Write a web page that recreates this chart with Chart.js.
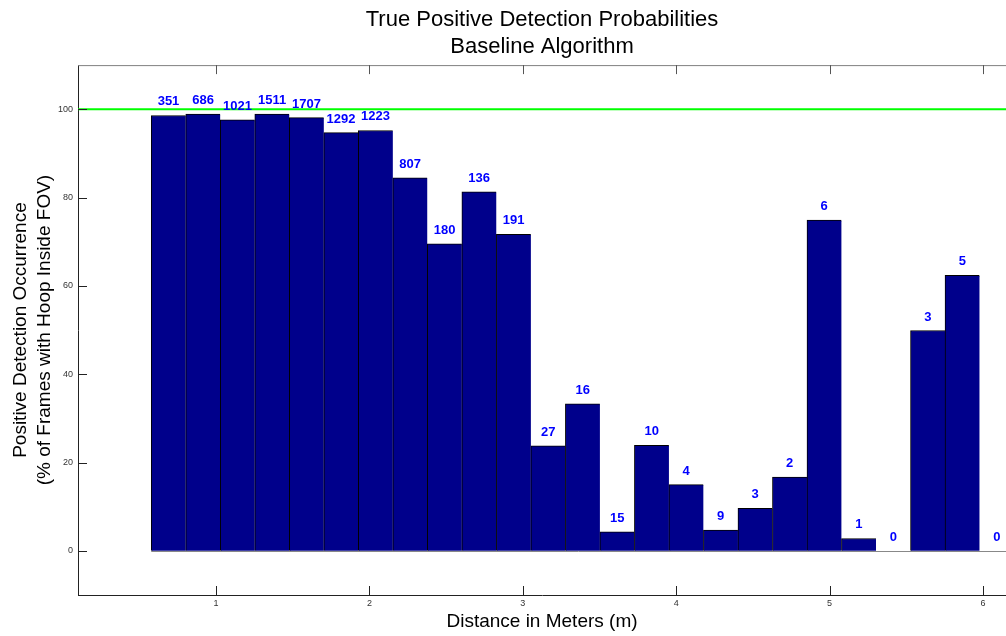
<!DOCTYPE html>
<html>
<head>
<meta charset="utf-8">
<script src="https://cdn.jsdelivr.net/npm/chart.js@4.4.1/dist/chart.umd.min.js"></script>
<style>
  html, body { margin: 0; padding: 0; background: #fff; }
  #wrap { width: 1006px; height: 636px; }
</style>
</head>
<body>
<div id="wrap"><canvas id="detChart" width="1006" height="636"></canvas></div>
<script>
// bin centres (metres)
const distances = [0.69, 0.915, 1.14, 1.365, 1.59, 1.815, 2.04, 2.265, 2.49, 2.715,
                   2.94, 3.165, 3.39, 3.615, 3.84, 4.065, 4.29, 4.515, 4.74, 4.965,
                   5.19, 5.415, 5.64, 5.865, 6.09];
// % of frames with a positive detection
const detectionPct = [98.6, 98.9, 97.6, 98.9, 98.1, 94.7, 95.2, 84.5, 69.5, 81.3,
                      71.7, 23.8, 33.3, 4.3, 23.9, 15.0, 4.7, 9.6, 16.7, 74.9,
                      2.8, 0, 49.9, 62.4, 0];
// number of frames in each bin
const frameCounts = [351, 686, 1021, 1511, 1707, 1292, 1223, 807, 180, 136,
                     191, 27, 16, 15, 10, 4, 9, 3, 2, 6,
                     1, 0, 3, 5, 0];
const xTicks = [1, 2, 3, 4, 5, 6];
const yTicks = [0, 20, 40, 60, 80, 100];
const targetLine = 100;
const xRange = [0.1, 6.15];
const yRange = [-10, 110];

const FONT = 'Liberation Sans, Arial, Helvetica, sans-serif';

// count labels above each bar
const countLabels = {
    id: 'countLabels',
    afterDatasetsDraw(chart) {
        const meta = chart.getDatasetMeta(0);
        const ctx = chart.ctx;
        ctx.save();
        ctx.font = 'bold 13px ' + FONT;
        ctx.fillStyle = '#0000ff';
        ctx.textAlign = 'center';
        ctx.textBaseline = 'alphabetic';
        meta.data.forEach((bar, i) => {
            ctx.fillText(String(frameCounts[i]), bar.x, bar.y - 10);
        });
        ctx.restore();
    }
};

// matlab style box: inward ticks, grey top edge, bar baseline
const axesBox = {
    id: 'axesBox',
    afterDraw(chart) {
        const {ctx, chartArea: a, scales: {x, y}} = chart;
        ctx.save();
        ctx.lineWidth = 1;
        // baseline under the bars
        const meta = chart.getDatasetMeta(0);
        const first = meta.data[0];
        const y0 = Math.round(y.getPixelForValue(0)) + 0.5;
        ctx.strokeStyle = '#888';
        ctx.beginPath();
        ctx.moveTo(first.x - first.width / 2, y0);
        ctx.lineTo(a.right, y0);
        ctx.stroke();
        // top edge
        ctx.strokeStyle = '#808080';
        ctx.beginPath();
        ctx.moveTo(a.left, a.top + 0.5);
        ctx.lineTo(a.right, a.top + 0.5);
        ctx.stroke();
        // x ticks, bottom and top
        xTicks.forEach(v => {
            const px = Math.round(x.getPixelForValue(v)) + 0.5;
            ctx.strokeStyle = '#222';
            ctx.beginPath();
            ctx.moveTo(px, a.bottom);
            ctx.lineTo(px, a.bottom - 9);
            ctx.stroke();
            ctx.strokeStyle = '#555';
            ctx.beginPath();
            ctx.moveTo(px, a.top);
            ctx.lineTo(px, a.top + 9);
            ctx.stroke();
        });
        // y ticks on the left
        ctx.strokeStyle = '#222';
        yTicks.forEach(v => {
            const py = Math.round(y.getPixelForValue(v)) + 0.5;
            ctx.beginPath();
            ctx.moveTo(a.left, py);
            ctx.lineTo(a.left + 9, py);
            ctx.stroke();
        });
        ctx.restore();
    }
};

const ctx = document.getElementById('detChart').getContext('2d');
new Chart(ctx, {
    type: 'bar',
    data: {
        datasets: [{
            type: 'bar',
            data: distances.map((d, i) => ({x: d, y: detectionPct[i]})),
            backgroundColor: '#00008b',
            borderColor: '#000000',
            borderWidth: {top: 1, left: 1, right: 0, bottom: 0},
            borderSkipped: false,
            barPercentage: 1,
            categoryPercentage: 1,
            order: 2
        }, {
            type: 'line',
            data: [{x: xRange[0], y: targetLine}, {x: xRange[1], y: targetLine}],
            borderColor: '#00ff00',
            borderWidth: 2,
            pointRadius: 0,
            order: 1
        }]
    },
    options: {
        responsive: false,
        devicePixelRatio: 1,
        animation: false,
        layout: {padding: 0},
        plugins: {
            legend: {display: false},
            tooltip: {enabled: false},
            title: {
                display: true,
                fullSize: false,
                text: ['True Positive Detection Probabilities', 'Baseline Algorithm'],
                color: '#000',
                font: {family: FONT, size: 22, weight: 'normal', lineHeight: 1.23},
                padding: {top: 6, bottom: 5}
            }
        },
        scales: {
            x: {
                type: 'linear',
                offset: false,
                min: xRange[0],
                max: xRange[1],
                afterBuildTicks(scale) { scale.ticks = xTicks.map(v => ({value: v})); },
                afterFit(scale) { scale.height = 41; },
                grid: {display: false, drawTicks: false, offset: false},
                border: {display: true, color: '#222', width: 1},
                ticks: {
                    padding: 3,
                    maxRotation: 0,
                    color: '#333',
                    font: {family: FONT, size: 9},
                    callback: v => String(v)
                },
                title: {
                    display: true,
                    text: 'Distance in Meters (m)',
                    color: '#000',
                    font: {family: FONT, size: 19, lineHeight: 1.2},
                    padding: {top: 0, bottom: 3}
                }
            },
            y: {
                min: yRange[0],
                max: yRange[1],
                afterBuildTicks(scale) { scale.ticks = yTicks.map(v => ({value: v})); },
                afterFit(scale) { scale.width = 78; },
                grid: {display: false, drawTicks: false},
                border: {display: true, color: '#222', width: 1},
                ticks: {
                    padding: 5,
                    color: '#333',
                    font: {family: FONT, size: 9},
                    callback: v => String(v)
                },
                title: {
                    display: true,
                    text: ['Positive Detection Occurrence', '(% of Frames with Hoop Inside FOV)'],
                    color: '#000',
                    font: {family: FONT, size: 19, lineHeight: 1.26},
                    padding: {top: 9, bottom: 0}
                }
            }
        }
    },
    plugins: [countLabels, axesBox]
});
</script>
</body>
</html>
